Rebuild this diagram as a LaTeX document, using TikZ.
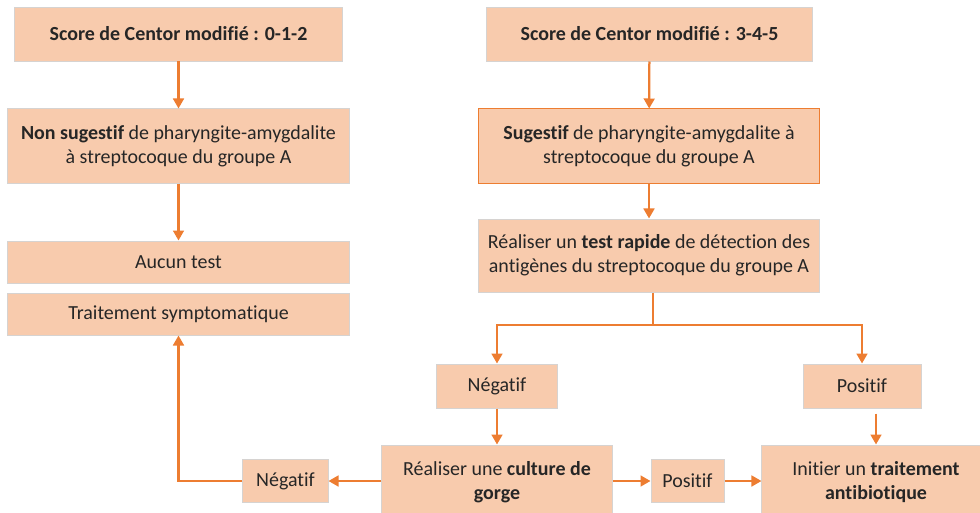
\documentclass[tikz,border=0pt]{standalone}
\usepackage{fontspec}
\setmainfont[Ligatures=NoCommon]{Carlito}
\usetikzlibrary{arrows.meta}

\definecolor{boxfill}{HTML}{F8CBAD}
\definecolor{boxline}{HTML}{D6D3D1}
\definecolor{arroworange}{HTML}{ED7D31}
\definecolor{textgray}{HTML}{262626}
\tikzset{box/.style={draw=boxline, line width=0.7pt, fill=boxfill, align=center, inner sep=2pt, text=textgray, font=\fontsize{14.2}{16.8}\selectfont}}
\tikzset{flow/.style={line width=1.6pt, color=arroworange, -{Triangle[length=0.25cm, width=0.27cm]}}}
\tikzset{link/.style={line width=1.6pt, color=arroworange}}

\begin{document}
\begin{tikzpicture}[x=0.025cm, y=-0.025cm]%{{{
        \useasboundingbox (0,0) rectangle (980,513);

        \node[box, minimum width=8.175cm, minimum height=1.35cm] (S1) at (178.5, 34) {\textbf{Score de Centor modifié : 0-1-2}};
        \node[box, minimum width=8.525cm, minimum height=1.85cm] (Ns) at (178.5, 146) {\textbf{Non sugestif} de pharyngite-amygdalite\\à streptocoque du groupe A};
        \node[box, minimum width=8.525cm, minimum height=1.05cm] (At) at (178.5, 262) {Aucun test};
        \node[box, minimum width=8.525cm, minimum height=1.05cm] (Ts) at (178.5, 314) {Traitement symptomatique};

        \node[box, minimum width=8.125cm, minimum height=1.35cm] (S2) at (649.5, 34) {\textbf{Score de Centor modifié : 3-4-5}};
        \node[box, draw=arroworange, minimum width=8.5cm, minimum height=1.85cm] (Sg) at (649, 146) {\textbf{Sugestif} de pharyngite-amygdalite à\\streptocoque du groupe A};
        \node[box, minimum width=8.5cm, minimum height=1.825cm] (Tr) at (649, 255.5) {Réaliser un \textbf{test rapide} de détection des\\antigènes du streptocoque du groupe A};
        \coordinate (split) at (653, 325);

        \node[box, minimum width=3cm, minimum height=1.1cm] (Ng1) at (497, 386) {Négatif};
        \node[box, minimum width=2.95cm, minimum height=1.1cm] (Ps1) at (862, 386) {Positif};
        \node[box, minimum width=5.75cm, minimum height=1.85cm] (Cg) at (497, 482) {Réaliser une \textbf{culture de}\\\textbf{gorge}};
        \node[box, minimum width=5.7cm, minimum height=1.85cm] (Ta) at (876, 482) {Initier un \textbf{traitement}\\\textbf{antibiotique}};
        \node[box, minimum width=1.825cm, minimum height=1.075cm] (Ps2) at (687.5, 481) {Positif};
        \node[box, minimum width=2.125cm, minimum height=1.075cm] (Ng2) at (285.5, 481) {Négatif};
        \coordinate (Psout) at ([yshift=-0.13cm]Ps1.south);

        \draw [flow] (S1) -- (Ns);
        \draw [flow] (Ns) -- (At);
        \draw [flow] (S2) -- (Sg);
        \draw [flow] (Sg) -- (Tr);
        \draw [link] (Tr.south -| split) -- (split);
        \draw [flow] (split) -| (Ng1.north);
        \draw [flow] (split) -| (Ps1.north);
        \draw [flow] (Ng1) -- (Cg.north -| Ng1);
        \draw [flow] (Psout -| Ta.north) -- (Ta.north);
        \draw [flow] (Cg.east |- Ps2) -- (Ps2.west);
        \draw [flow] (Ps2.east) -- (Ta.west |- Ps2);
        \draw [flow] (Cg.west |- Ng2) -- (Ng2.east);
        \draw [flow] (Ng2.west) -| (Ts.south);

    \end{tikzpicture}
\end{document}
